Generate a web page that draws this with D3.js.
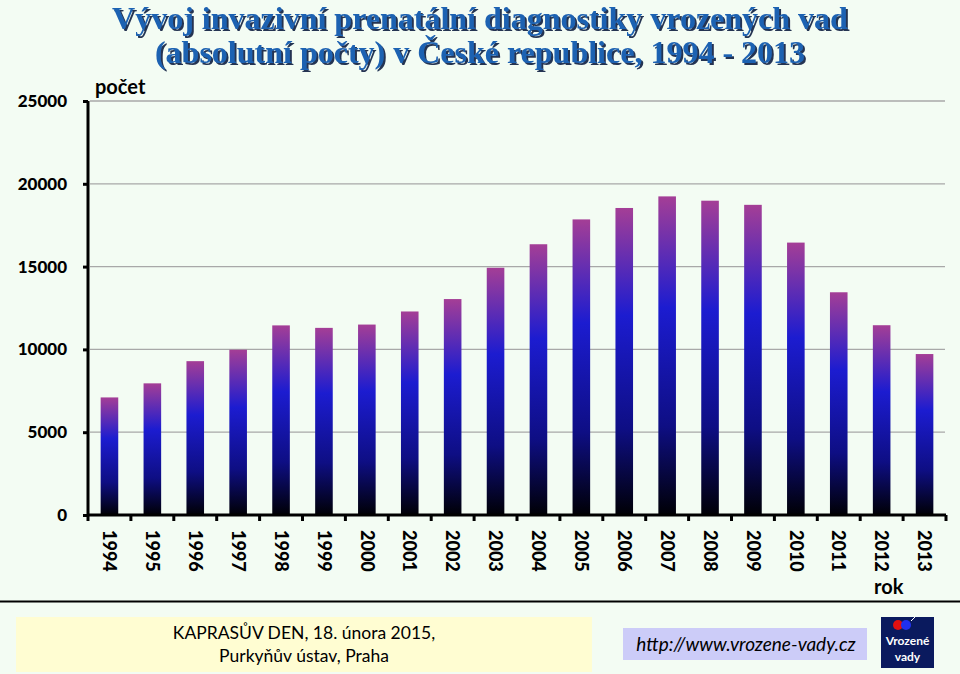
<!DOCTYPE html>
<html><head><meta charset="utf-8">
<script src="https://cdn.jsdelivr.net/npm/d3@7"></script>
<style>html,body{margin:0;padding:0;background:#F3FCF3;}svg{display:block;}</style>
</head><body>
<script>
const years = ["1994","1995","1996","1997","1998","1999","2000","2001","2002","2003","2004","2005","2006","2007","2008","2009","2010","2011","2012","2013"];
const counts = [7100,7950,9290,9980,11450,11300,11500,12290,13040,14930,16350,17850,18540,19240,18980,18730,16450,13450,11460,9720];
const yTicks = [0,5000,10000,15000,20000,25000];
const titleLines = ["Vývoj invazivní prenatální diagnostiky vrozených vad","(absolutní počty) v České republice, 1994 - 2013"];

const W=960,H=674;
const svg=d3.select("body").append("svg").attr("width",W).attr("height",H);
svg.append("rect").attr("width",W).attr("height",H).attr("fill","#F3FCF3");

const defs=svg.append("defs");
const g=defs.append("linearGradient").attr("id","barGrad").attr("x1",0).attr("y1",0).attr("x2",0).attr("y2",1);
g.append("stop").attr("offset","0%").attr("stop-color","#A43E96");
g.append("stop").attr("offset","35%").attr("stop-color","#1C1CD0");
g.append("stop").attr("offset","72%").attr("stop-color","#0E0E84");
g.append("stop").attr("offset","100%").attr("stop-color","#000005");
const f=defs.append("filter").attr("id","shadow").attr("x","-5%").attr("y","-20%").attr("width","110%").attr("height","140%");
f.append("feDropShadow").attr("dx",2).attr("dy",2).attr("stdDeviation",0.6).attr("flood-color","#0a1a40").attr("flood-opacity",0.9);

const x=d3.scaleBand().domain(years).range([88,946]).paddingInner(0.59).paddingOuter(0.295);
const y=d3.scaleLinear().domain([0,25000]).range([515,101]);

const sans="Lato, 'Open Sans', sans-serif";

// gridlines
svg.append("g").selectAll("line").data(yTicks.filter(d=>d>0)).join("line")
  .attr("x1",90).attr("x2",945).attr("y1",d=>y(d)).attr("y2",d=>y(d))
  .attr("stroke","#A8A8A8").attr("stroke-width",1.3);

// bars
svg.append("g").selectAll("rect").data(years).join("rect")
  .attr("x",d=>x(d)).attr("width",x.bandwidth())
  .attr("y",(d,i)=>y(counts[i])).attr("height",(d,i)=>y(0)-y(counts[i]))
  .attr("fill","url(#barGrad)");

// y axis
const yAxis=d3.axisLeft(y).tickValues(yTicks).tickSize(5).tickPadding(16).tickFormat(d=>String(d));
const ya=svg.append("g").attr("transform","translate(88,0)").call(yAxis);
ya.select(".domain").attr("stroke","#000").attr("stroke-width",3).attr("d","M0,"+y(25000)+"V"+y(0));
ya.selectAll(".tick line").attr("stroke","#000").attr("stroke-width",3);
ya.selectAll(".tick text").attr("font-family",sans).attr("font-weight","900").attr("font-size","17px").attr("fill","#000");

// x axis
const step=x.step();
const bounds=years.map(d=>x(d)-x.paddingInner()*step/2).concat([x(years[years.length-1])+x.bandwidth()+x.paddingInner()*step/2]);
const xa=svg.append("g");
xa.append("line").attr("x1",88).attr("x2",bounds[bounds.length-1]).attr("y1",y(0)).attr("y2",y(0)).attr("stroke","#000").attr("stroke-width",3);
xa.selectAll("line.t").data(bounds).join("line").attr("class","t")
  .attr("x1",d=>d).attr("x2",d=>d).attr("y1",y(0)).attr("y2",y(0)+6).attr("stroke","#000").attr("stroke-width",3);
xa.selectAll("text").data(years).join("text")
  .attr("transform",d=>`translate(${x(d)+x.bandwidth()/2},530) rotate(90)`)
  .attr("dy","0.35em").attr("text-anchor","start")
  .attr("font-family",sans).attr("font-weight","900").attr("font-size","18px").attr("fill","#000")
  .text(d=>d);

// axis titles
svg.append("text").attr("x",95).attr("y",94).attr("font-family",sans).attr("font-weight","bold").attr("font-size","20px").attr("fill","#000").text("počet");
svg.append("text").attr("x",874).attr("y",594).attr("font-family",sans).attr("font-weight","bold").attr("font-size","20px").attr("fill","#000").text("rok");

// title
svg.append("g").selectAll("text").data(titleLines).join("text")
  .attr("x",480).attr("y",(d,i)=>29+i*34).attr("text-anchor","middle")
  .attr("font-family","'Liberation Serif','Times New Roman',serif").attr("font-weight","bold").attr("font-size","32px")
  .attr("fill","#1F62B2").attr("filter","url(#shadow)").text(d=>d);

// separator
svg.append("line").attr("x1",0).attr("x2",960).attr("y1",601.5).attr("y2",601.5).attr("stroke","#000").attr("stroke-width",2);

// footer
svg.append("rect").attr("x",16).attr("y",617).attr("width",576).attr("height",55).attr("fill","#FFFDD2");
svg.append("text").attr("x",304).attr("y",639).attr("text-anchor","middle").attr("font-family",sans).attr("font-size","17.5px").attr("fill","#000").text("KAPRASŮV DEN, 18. února 2015,");
svg.append("text").attr("x",304).attr("y",662).attr("text-anchor","middle").attr("font-family",sans).attr("font-size","17.5px").attr("fill","#000").text("Purkyňův ústav, Praha");
svg.append("rect").attr("x",623).attr("y",628).attr("width",244).attr("height",32).attr("fill","#CCCCF8");
svg.append("text").attr("x",746).attr("y",651).attr("text-anchor","middle").attr("font-family",sans).attr("font-style","italic").attr("font-size","19px").attr("fill","#000").text("http://www.vrozene-vady.cz");

// logo
const lg=svg.append("g");
lg.append("rect").attr("x",881).attr("y",617).attr("width",53).attr("height",51).attr("fill","#0A1A5E");
lg.append("circle").attr("cx",898).attr("cy",625).attr("r",5).attr("fill","#E01010");
lg.append("circle").attr("cx",906).attr("cy",625).attr("r",5).attr("fill","#2030F0");
lg.append("line").attr("x1",911).attr("y1",621).attr("x2",915).attr("y2",617).attr("stroke","#fff").attr("stroke-width",1);
lg.append("text").attr("x",907.5).attr("y",645).attr("text-anchor","middle").attr("font-family",sans).attr("font-weight","bold").attr("font-size","12px").attr("fill","#fff").text("Vrozené");
lg.append("text").attr("x",907.5).attr("y",661).attr("text-anchor","middle").attr("font-family",sans).attr("font-weight","bold").attr("font-size","12px").attr("fill","#fff").text("vady");
</script>
</body></html>
